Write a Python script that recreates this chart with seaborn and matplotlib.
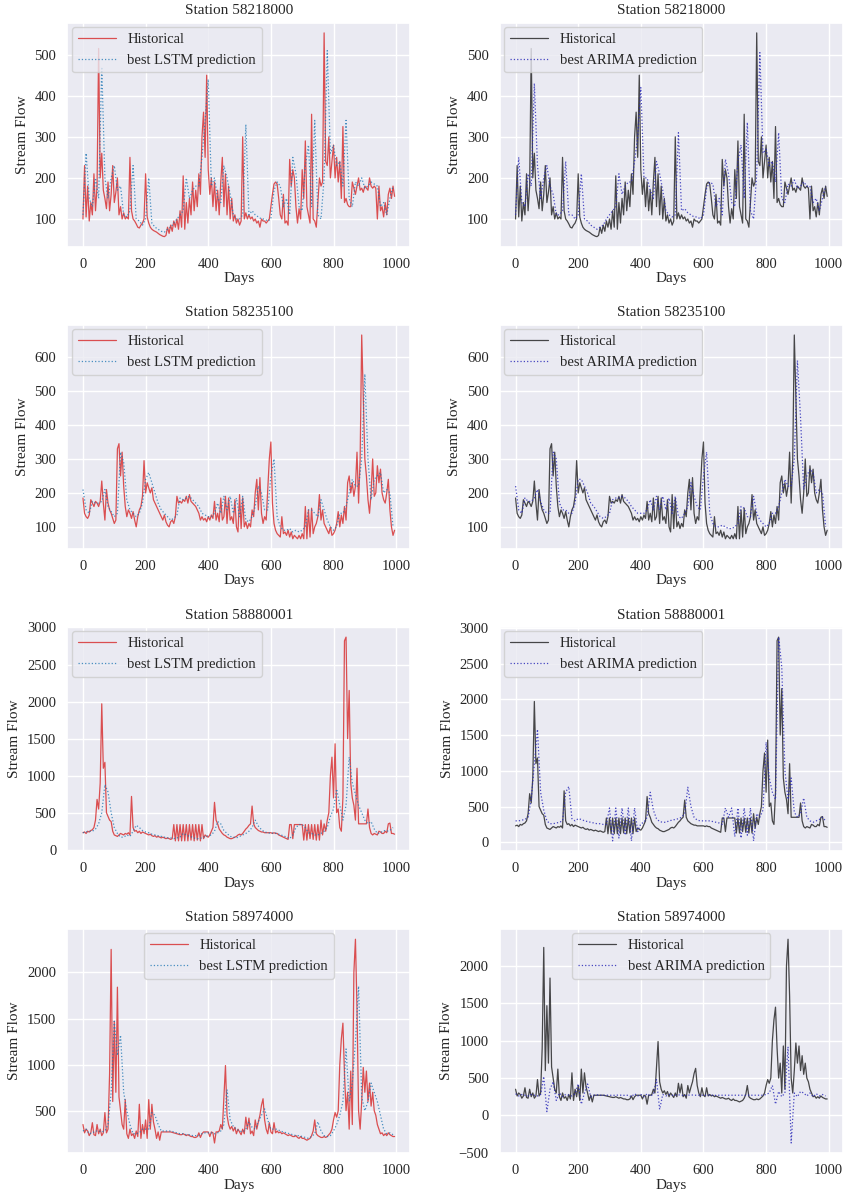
import numpy as np
import pandas as pd
import matplotlib
matplotlib.use("Agg")
import matplotlib.pyplot as plt
import seaborn as sns

# day index of the historical series (5-day step) and of the predictions (10-day step)
days_hist = list(range(0, 1000, 5))
days_pred = list(range(0, 1000, 10))

stations = ["58218000", "58235100", "58880001", "58974000"]

hist_58218000 = [
    100, 230, 105, 180, 95, 140, 110, 210, 120, 180, 515, 200, 260, 170, 150, 125, 190, 120, 160, 230,
    140, 165, 200, 110, 130, 100, 115, 100, 105, 100, 250, 120, 100, 95, 88, 80, 78, 85, 90, 100,
    210, 105, 90, 80, 75, 72, 70, 68, 65, 62, 60, 58, 57, 60, 80, 65, 85, 70, 95, 80,
    100, 75, 120, 80, 205, 75, 140, 90, 150, 110, 190, 120, 170, 130, 210, 160, 300, 360, 250, 450,
    220, 160, 200, 130, 190, 120, 170, 110, 190, 250, 130, 210, 110, 180, 100, 150, 95, 110, 90, 100,
    85, 95, 300, 100, 115, 100, 110, 100, 105, 95, 100, 90, 95, 80, 100, 95, 95, 90, 95, 100,
    130, 160, 185, 190, 185, 150, 110, 100, 160, 90, 95, 85, 245, 180, 220, 200, 130, 90, 125, 100,
    220, 150, 290, 130, 110, 90, 355, 100, 95, 80, 140, 200, 180, 190, 553, 240, 230, 300, 200, 240,
    280, 200, 250, 190, 240, 150, 325, 140, 150, 135, 130, 130, 190, 175, 160, 180, 200, 170, 175, 165,
    180, 175, 170, 200, 180, 175, 180, 175, 100, 180, 120, 130, 105, 140, 110, 160, 175, 150, 180, 155,
]
lstm_58218000 = [
    110, 260, 150, 130, 200, 150, 470, 200, 150, 200, 230, 170, 180, 110, 105, 120, 230, 100, 95, 85,
    100, 200, 90, 80, 75, 70, 68, 75, 80, 90, 100, 110, 120, 200, 150, 170, 180, 180, 250, 340,
    440, 180, 200, 150, 140, 230, 200, 160, 110, 100, 100, 110, 330, 110, 120, 110, 105, 100, 100, 95,
    100, 170, 190, 180, 130, 150, 110, 250, 210, 130, 120, 230, 280, 130, 340, 110, 100, 200, 510, 260,
    280, 230, 240, 180, 340, 150, 130, 190, 180, 200, 175, 180, 190, 185, 180, 130, 140, 110, 150, 180,
]
arima_58218000 = [
    110, 250, 140, 130, 210, 180, 430, 230, 150, 200, 230, 180, 160, 110, 110, 120, 240, 110, 110, 100,
    110, 210, 100, 95, 85, 80, 75, 80, 85, 100, 110, 120, 130, 210, 160, 180, 190, 190, 240, 300,
    420, 200, 200, 170, 150, 240, 210, 170, 120, 110, 105, 110, 310, 120, 125, 115, 110, 105, 105, 100,
    110, 175, 190, 185, 130, 150, 110, 245, 210, 140, 130, 240, 280, 150, 335, 120, 100, 210, 505, 260,
    270, 230, 240, 190, 310, 150, 140, 185, 180, 195, 175, 180, 190, 180, 180, 140, 150, 120, 150, 180,
]

hist_58235100 = [
    185, 140, 130, 125, 135, 180, 170, 160, 175, 170, 160, 175, 235, 170, 120, 210, 170, 150, 140, 125,
    110, 120, 330, 345, 250, 320, 220, 160, 130, 150, 140, 125, 145, 120, 100, 130, 150, 160, 190, 295,
    200, 230, 215, 200, 215, 180, 170, 160, 150, 140, 130, 120, 135, 115, 105, 100, 115, 120, 110, 130,
    190, 170, 175, 170, 180, 175, 190, 170, 195, 175, 170, 165, 160, 150, 140, 120, 130, 120, 125, 115,
    130, 120, 135, 125, 175, 120, 140, 115, 185, 120, 130, 190, 110, 185, 120, 130, 110, 180, 100, 85,
    195, 95, 185, 100, 115, 95, 110, 100, 150, 130, 200, 240, 150, 245, 140, 110, 130, 120, 210, 300,
    350, 170, 110, 90, 80, 75, 70, 130, 80, 85, 75, 90, 70, 85, 65, 75, 70, 65, 75, 65,
    80, 65, 160, 65, 150, 70, 155, 80, 100, 110, 130, 195, 120, 150, 110, 100, 90, 80, 100, 75,
    80, 90, 110, 145, 100, 135, 110, 160, 120, 230, 250, 200, 230, 190, 220, 320, 170, 300, 665, 480,
    300, 250, 180, 140, 200, 300, 190, 200, 280, 230, 270, 200, 180, 170, 200, 240, 150, 100, 75, 90,
]
lstm_58235100 = [
    210, 150, 140, 175, 170, 170, 175, 210, 160, 145, 130, 140, 320, 290, 180, 150, 140, 130, 140, 170,
    240, 260, 230, 200, 170, 150, 140, 130, 120, 125, 135, 185, 180, 185, 190, 180, 170, 160, 140, 135,
    130, 130, 140, 170, 140, 190, 150, 190, 140, 185, 130, 190, 120, 115, 130, 160, 220, 200, 150, 150,
    250, 300, 130, 100, 90, 90, 95, 85, 90, 85, 90, 100, 150, 150, 140, 130, 180, 150, 120, 100,
    90, 100, 140, 140, 160, 200, 240, 220, 220, 300, 550, 300, 180, 240, 250, 260, 200, 210, 200, 100,
]
arima_58235100 = [
    220, 150, 140, 185, 175, 175, 185, 210, 175, 150, 140, 140, 320, 300, 170, 150, 150, 140, 140, 170,
    240, 240, 220, 200, 170, 160, 145, 130, 125, 130, 140, 180, 185, 185, 190, 185, 175, 160, 150, 140,
    140, 140, 150, 180, 150, 190, 150, 190, 150, 185, 140, 190, 130, 125, 140, 160, 230, 190, 160, 150,
    250, 320, 140, 110, 100, 100, 105, 100, 95, 95, 100, 110, 160, 155, 130, 130, 190, 140, 120, 110,
    100, 110, 140, 140, 160, 200, 240, 220, 220, 300, 590, 420, 210, 250, 270, 260, 200, 210, 200, 100,
]

hist_58880001 = [
    230, 240, 220, 250, 240, 260, 270, 300, 400, 680, 550, 900, 1970, 1100, 1180, 500, 450, 400, 380, 250,
    200, 190, 180, 200, 220, 210, 200, 220, 210, 230, 200, 720, 300, 250, 260, 230, 250, 220, 240, 230,
    220, 210, 200, 210, 190, 180, 190, 170, 180, 170, 160, 170, 160, 150, 160, 150, 140, 150, 340, 120,
    340, 120, 340, 120, 340, 120, 340, 120, 340, 130, 340, 120, 340, 130, 340, 120, 340, 150, 200, 180,
    170, 200, 250, 300, 640, 400, 350, 280, 250, 220, 200, 190, 170, 160, 150, 150, 160, 170, 180, 200,
    210, 200, 220, 250, 280, 300, 330, 350, 590, 350, 300, 280, 260, 250, 240, 240, 230, 230, 230, 230,
    230, 220, 230, 220, 220, 200, 190, 180, 170, 160, 150, 140, 340, 340, 150, 340, 340, 340, 340, 340,
    340, 130, 340, 130, 340, 150, 340, 140, 340, 130, 340, 130, 400, 200, 350, 250, 400, 500, 1000, 1250,
    700, 1430, 500, 550, 300, 250, 700, 2820, 2870, 1500, 2150, 900, 700, 600, 400, 1100, 350, 350, 350, 350,
    350, 350, 550, 300, 220, 200, 220, 210, 200, 250, 240, 220, 220, 250, 230, 350, 360, 220, 220, 210,
]
lstm_58880001 = [
    230, 240, 250, 250, 280, 350, 500, 880, 780, 500, 300, 220, 170, 170, 200, 180, 250, 330, 300, 260,
    240, 230, 210, 200, 190, 180, 170, 160, 160, 150, 160, 170, 220, 200, 180, 170, 150, 150, 160, 180,
    190, 200, 250, 380, 350, 260, 220, 180, 170, 160, 180, 200, 220, 250, 300, 400, 320, 270, 240, 230,
    220, 230, 220, 200, 190, 170, 150, 200, 300, 340, 340, 300, 230, 220, 200, 200, 220, 250, 300, 450,
    550, 820, 600, 400, 600, 1250, 900, 750, 600, 500, 400, 350, 380, 280, 220, 230, 260, 250, 260, 300,
]
arima_58880001 = [
    300, 300, 310, 320, 350, 600, 1100, 1580, 700, 450, 300, 260, 260, 270, 280, 300, 700, 780, 330, 300,
    330, 320, 300, 290, 280, 270, 260, 260, 250, 250, 480, 20, 480, 60, 480, 100, 480, 20, 480, 150,
    260, 280, 350, 700, 450, 330, 290, 280, 280, 300, 310, 320, 330, 350, 400, 770, 500, 350, 310, 300,
    300, 300, 300, 290, 280, 270, 250, 480, 350, 480, 80, 480, 60, 480, 100, 480, 20, 400, 350, 450,
    1400, 900, 700, 600, 2870, 2450, 1000, 600, 900, 420, 350, 400, 620, 350, 300, 280, 300, 320, 350, 300,
]

hist_58974000 = [
    350, 260, 300, 280, 230, 260, 370, 240, 230, 350, 250, 300, 230, 260, 480, 260, 300, 900, 2250, 600,
    1470, 700, 1840, 650, 500, 350, 300, 620, 250, 200, 300, 230, 250, 200, 280, 220, 570, 200, 350, 250,
    400, 200, 620, 300, 570, 380, 300, 200, 270, 180, 270, 270, 270, 270, 270, 270, 270, 265, 260, 255,
    250, 245, 240, 240, 250, 240, 230, 240, 230, 220, 220, 210, 210, 220, 260, 210, 250, 270, 270, 270,
    270, 220, 270, 260, 150, 270, 270, 280, 350, 300, 650, 990, 450, 350, 300, 330, 280, 320, 250, 300,
    270, 240, 300, 250, 430, 300, 420, 250, 280, 230, 400, 300, 380, 450, 560, 630, 400, 300, 250, 370,
    270, 250, 370, 260, 280, 260, 270, 250, 260, 250, 240, 230, 240, 230, 220, 220, 230, 210, 200, 220,
    200, 200, 190, 180, 190, 200, 230, 280, 400, 250, 230, 220, 210, 210, 220, 210, 220, 240, 260, 300,
    400, 480, 430, 500, 1000, 1280, 1450, 900, 500, 700, 300, 930, 350, 2000, 2360, 1600, 500, 300, 600, 970,
    700, 930, 600, 800, 550, 700, 500, 450, 350, 300, 250, 260, 230, 250, 230, 260, 240, 230, 220, 220,
]
lstm_58974000 = [
    280, 300, 250, 260, 280, 280, 270, 280, 350, 700, 1470, 1100, 1320, 700, 500, 350, 250, 250, 260, 300,
    300, 300, 480, 450, 350, 280, 280, 280, 280, 270, 260, 250, 250, 240, 240, 230, 230, 230, 250, 260,
    260, 260, 250, 260, 280, 350, 730, 400, 330, 300, 280, 270, 300, 380, 320, 300, 380, 450, 520, 400,
    300, 300, 300, 280, 270, 260, 250, 240, 230, 230, 220, 210, 200, 220, 250, 380, 280, 230, 220, 230,
    280, 350, 450, 600, 1170, 600, 800, 1250, 1850, 650, 500, 600, 800, 700, 600, 450, 300, 250, 260, 240,
]
arima_58974000 = [
    290, 260, 280, 270, 260, 280, 270, 260, 280, 520, 50, 350, 450, 200, 300, 250, 280, 270, 260, 290,
    420, 150, 300, 420, 250, 270, 275, 270, 270, 270, 270, 268, 270, 272, 270, 268, 270, 250, 290, 260,
    280, 250, 290, 260, 280, 480, 80, 280, 260, 280, 270, 270, 275, 270, 265, 270, 275, 270, 270, 270,
    270, 270, 272, 270, 268, 270, 270, 270, 270, 270, 270, 270, 270, 270, 270, 270, 270, 270, 270, 270,
    280, 300, 400, 150, 320, 250, 300, 920, -370, 300, 250, 320, 300, 260, 300, 250, 290, 260, 280, 260,
]

hist_series = [hist_58218000, hist_58235100, hist_58880001, hist_58974000]
lstm_series = [lstm_58218000, lstm_58235100, lstm_58880001, lstm_58974000]
arima_series = [arima_58218000, arima_58235100, arima_58880001, arima_58974000]

sns.set_theme(style="darkgrid")
plt.rcParams["font.family"] = ["Liberation Serif", "DejaVu Serif"]

fig, axes = plt.subplots(4, 2, figsize=(8.53, 11.95), dpi=100)
fig.subplots_adjust(left=0.079, right=0.988, top=0.981, bottom=0.035, wspace=0.262, hspace=0.348)

for i, st in enumerate(stations):
    ax = axes[i, 0]
    sns.lineplot(x=days_hist, y=hist_series[i], ax=ax, color="#d62728", alpha=0.8,
                 linewidth=0.9, label="Historical")
    sns.lineplot(x=days_pred, y=lstm_series[i], ax=ax, color="#1f77b4", alpha=0.8,
                 linewidth=0.9, linestyle=":", label="best LSTM prediction")

    ax2 = axes[i, 1]
    sns.lineplot(x=days_hist, y=hist_series[i], ax=ax2, color="black", alpha=0.7,
                 linewidth=0.9, label="Historical")
    sns.lineplot(x=days_pred, y=arima_series[i], ax=ax2, color="#2a2ab8", alpha=0.85,
                 linewidth=0.9, linestyle=":", label="best ARIMA prediction")

    for a in (ax, ax2):
        a.set_title("Station " + st, fontsize=11)
        a.set_xlabel("Days", fontsize=11, labelpad=1)
        a.set_ylabel("Stream Flow", fontsize=11)
        a.tick_params(labelsize=10.5, pad=2)
        a.set_xticks([0, 200, 400, 600, 800, 1000])
        loc = "upper center" if i == 3 else "upper left"
        a.legend(loc=loc, fontsize=10.5, handlelength=2.6, borderaxespad=0.3)

axes[1, 0].set_yticks([100, 200, 300, 400, 500, 600])
axes[1, 1].set_yticks([100, 200, 300, 400, 500, 600])
axes[3, 0].set_yticks([500, 1000, 1500, 2000])

fig.savefig("out.png", dpi=100)
